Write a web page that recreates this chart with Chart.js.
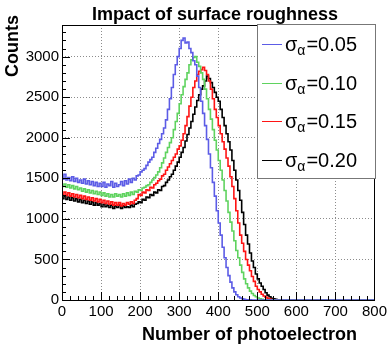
<!DOCTYPE html>
<html>
<head>
<meta charset="utf-8">
<script src="https://cdn.jsdelivr.net/npm/chart.js@4/dist/chart.umd.min.js"></script>
<style>
  html, body { margin: 0; padding: 0; background: #fff; }
  #wrap { width: 390px; height: 347px; }
</style>
</head>
<body>
<div id="wrap"><canvas id="chart" width="390" height="347"></canvas></div>
<script>
// Histogrammes du nombre de photoelectrons, bins de 5 (bord gauche du bin), de 0 a 595
const binWidth = 5;
const xTicks = [0, 100, 200, 300, 400, 500, 600, 700, 800];
const yTicks = [0, 500, 1000, 1500, 2000, 2500, 3000];
const labels = ['0.05', '0.10', '0.15', '0.20'];
const colors = ['#5c5ce6', '#5fd35f', '#ff1414', '#000000'];

const sigma005 = [
  1530, 1490, 1550, 1480, 1510, 1470, 1520, 1460, 1500, 1450,
  1480, 1440, 1490, 1430, 1470, 1420, 1460, 1410, 1450, 1400,
  1440, 1400, 1450, 1390, 1430, 1410, 1460, 1390, 1440, 1400,
  1420, 1460, 1410, 1470, 1430, 1490, 1450, 1500, 1480, 1530,
  1540, 1580, 1600, 1620, 1660, 1700, 1730, 1760, 1820, 1870,
  1930, 1980, 2050, 2120, 2220, 2350, 2480, 2620, 2780, 2900,
  3000, 3100, 3200, 3230, 3170, 3180, 3100, 3050, 2950, 2900,
  2760, 2620, 2450, 2300, 2150, 1980, 1800, 1630, 1450, 1280,
  1100, 950, 800, 650, 520, 400, 300, 220, 150, 100,
  65, 40, 25, 15, 8, 4, 2, 1, 0, 0,
  0, 0, 0, 0, 0, 0, 0, 0, 0, 0,
  0, 0, 0, 0, 0, 0, 0, 0, 0, 0
];
const sigma010 = [
  1440, 1400, 1430, 1390, 1420, 1380, 1410, 1370, 1400, 1360,
  1380, 1340, 1370, 1330, 1360, 1320, 1350, 1310, 1340, 1300,
  1330, 1290, 1320, 1280, 1310, 1270, 1300, 1270, 1310, 1280,
  1300, 1270, 1310, 1280, 1320, 1290, 1330, 1300, 1340, 1330,
  1360, 1350, 1380, 1390, 1410, 1420, 1450, 1480, 1510, 1540,
  1580, 1630, 1690, 1750, 1820, 1880, 1940, 2000, 2100, 2200,
  2300, 2420, 2530, 2630, 2720, 2800, 2900, 2960, 2990, 3000,
  2930, 2880, 2800, 2720, 2600, 2480, 2350, 2230, 2100, 1970,
  1850, 1720, 1600, 1480, 1350, 1220, 1080, 960, 850, 730,
  610, 520, 430, 340, 260, 200, 150, 110, 80, 55,
  40, 25, 15, 8, 4, 2, 0, 0, 0, 0,
  0, 0, 0, 0, 0, 0, 0, 0, 0, 0
];
const sigma015 = [
  1340, 1300, 1330, 1290, 1320, 1280, 1310, 1270, 1300, 1260,
  1290, 1250, 1280, 1240, 1270, 1230, 1260, 1220, 1250, 1210,
  1240, 1200, 1230, 1190, 1220, 1180, 1210, 1170, 1200, 1170,
  1200, 1160, 1190, 1170, 1200, 1180, 1210, 1190, 1230, 1250,
  1300, 1290, 1330, 1320, 1360, 1350, 1390, 1380, 1420, 1440,
  1470, 1490, 1530, 1550, 1600, 1640, 1680, 1720, 1760, 1800,
  1860, 1900, 1970, 2050, 2150, 2260, 2390, 2500, 2620, 2700,
  2780, 2820, 2840, 2870, 2830, 2780, 2700, 2600, 2480, 2350,
  2250, 2150, 2050, 1950, 1860, 1750, 1650, 1520, 1400, 1250,
  1100, 950, 800, 700, 600, 500, 430, 360, 290, 230,
  170, 130, 100, 70, 50, 35, 22, 12, 6, 3,
  1, 0, 0, 0, 0, 0, 0, 0, 0, 0
];
const sigma020 = [
  1290, 1250, 1280, 1240, 1270, 1230, 1260, 1220, 1250, 1210,
  1240, 1200, 1230, 1190, 1220, 1180, 1210, 1170, 1200, 1170,
  1190, 1150, 1180, 1150, 1170, 1140, 1170, 1130, 1160, 1140,
  1170, 1130, 1160, 1140, 1150, 1140, 1170, 1150, 1180, 1190,
  1210, 1200, 1240, 1230, 1270, 1260, 1300, 1290, 1330, 1320,
  1360, 1350, 1400, 1410, 1450, 1480, 1520, 1550, 1600, 1650,
  1700, 1760, 1820, 1880, 1960, 2040, 2120, 2200, 2290, 2380,
  2460, 2530, 2600, 2640, 2700, 2760, 2730, 2680, 2620, 2560,
  2500, 2450, 2350, 2250, 2150, 2050, 1950, 1850, 1720, 1600,
  1480, 1350, 1230, 1080, 930, 800, 690, 580, 480, 400,
  320, 260, 210, 170, 130, 90, 60, 40, 22, 14,
  8, 4, 2, 1, 0, 0, 0, 0, 0, 0
];
const series = [sigma005, sigma010, sigma015, sigma020];

// points {x,y} pour un histogramme en escalier, prolonge jusqu'a 800
function toSteps(values) {
  const pts = values.map((v, i) => ({ x: i * binWidth, y: v }));
  pts.push({ x: 800, y: values[values.length - 1] });
  return pts;
}

const FONT = "'Liberation Sans', Arial, Helvetica, sans-serif";

// cadre, ticks internes (style ROOT), titres et legende
const rootStyle = {
  id: 'rootStyle',
  afterDatasetsDraw(chart) {
    const ctx = chart.ctx;
    const a = chart.chartArea;
    const xs = chart.scales.x, ys = chart.scales.y;
    ctx.save();
    ctx.strokeStyle = '#000';
    ctx.lineWidth = 1;
    ctx.beginPath();
    // ticks axe x : majeurs tous les 100, mineurs tous les 20
    for (let v = 0; v <= 800; v += 20) {
      const px = Math.round(xs.getPixelForValue(v)) + 0.5;
      const len = (v % 100 === 0) ? 8 : 4;
      ctx.moveTo(px, a.bottom);
      ctx.lineTo(px, a.bottom - len);
    }
    // ticks axe y : majeurs tous les 500, mineurs tous les 100
    for (let v = 0; v <= ys.max; v += 100) {
      const py = Math.round(ys.getPixelForValue(v)) + 0.5;
      const len = (v % 500 === 0) ? 8 : 4;
      ctx.moveTo(a.left, py);
      ctx.lineTo(a.left + len, py);
    }
    ctx.stroke();
    ctx.strokeRect(Math.round(a.left) + 0.5, Math.round(a.top) + 0.5,
      Math.round(a.right - a.left), Math.round(a.bottom - a.top));

    // legende
    const lx = 257, ly = 24, lw = 118, lh = 154;
    ctx.fillStyle = '#fff';
    ctx.fillRect(lx, ly, lw, lh);
    ctx.strokeStyle = '#777';
    ctx.strokeRect(lx + 0.5, ly + 0.5, lw, lh);
    chart.data.datasets.forEach((ds, i) => {
      const cy = 44 + i * 38.7;
      ctx.strokeStyle = ds.borderColor;
      ctx.lineWidth = 1;
      ctx.beginPath();
      ctx.moveTo(262, Math.round(cy) + 0.5);
      ctx.lineTo(282, Math.round(cy) + 0.5);
      ctx.stroke();
      ctx.fillStyle = '#000';
      ctx.textAlign = 'left';
      ctx.textBaseline = 'alphabetic';
      ctx.font = '20px ' + FONT;
      ctx.fillText('σ', 285, cy + 7);
      const w1 = ctx.measureText('σ').width;
      ctx.font = '14px ' + FONT;
      ctx.fillText('α', 285 + w1, cy + 11);
      const w2 = ctx.measureText('α').width;
      ctx.font = '20px ' + FONT;
      ctx.fillText('=' + ds.label, 285 + w1 + w2 + 1, cy + 7);
    });

    // titres
    ctx.fillStyle = '#000';
    ctx.font = 'bold 18px ' + FONT;
    ctx.textAlign = 'center';
    ctx.fillText('Impact of surface roughness', 215, 20);
    ctx.textAlign = 'right';
    ctx.fillText('Number of photoelectron', 357, 340);
    ctx.translate(18, 15);
    ctx.rotate(-Math.PI / 2);
    ctx.fillText('Counts', 0, 0);
    ctx.restore();
  }
};

const gridOpts = { color: '#8c8c8c', lineWidth: 1, drawTicks: false };

new Chart(document.getElementById('chart'), {
  type: 'line',
  data: {
    datasets: series.map((vals, i) => ({
      label: labels[i],
      data: toSteps(vals),
      borderColor: colors[i],
      borderWidth: 1.6,
      pointRadius: 0,
      stepped: 'after',
      fill: false
    }))
  },
  options: {
    responsive: false,
    animation: false,
    events: [],
    layout: { padding: { top: 25, right: 15, left: 0, bottom: 0 } },
    plugins: { legend: { display: false }, title: { display: false }, tooltip: { enabled: false } },
    scales: {
      x: {
        type: 'linear', min: 0, max: 800,
        afterBuildTicks: s => { s.ticks = xTicks.map(v => ({ value: v })); },
        afterFit: s => { s.height = 47; },
        ticks: { font: { family: FONT, size: 15 }, color: '#000', padding: 3, maxRotation: 0,
                 callback: v => String(v) },
        grid: gridOpts,
        border: { display: false, dash: [1, 2] }
      },
      y: {
        type: 'linear', min: 0, max: 3390,
        afterBuildTicks: s => { s.ticks = yTicks.map(v => ({ value: v })); },
        afterFit: s => { s.width = 62; },
        ticks: { font: { family: FONT, size: 15 }, color: '#000', padding: 3,
                 callback: v => String(v) },
        grid: gridOpts,
        border: { display: false, dash: [1, 2] }
      }
    }
  },
  plugins: [rootStyle]
});
</script>
</body>
</html>
